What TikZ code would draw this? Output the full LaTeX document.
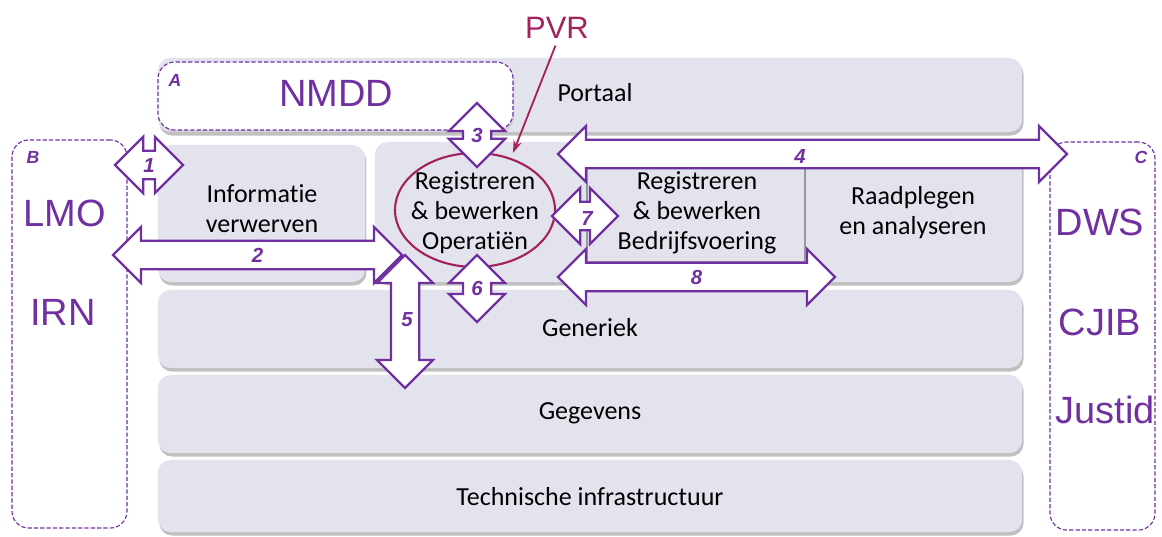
\documentclass[tikz,border=0pt]{standalone}
\usepackage{fontspec}
\setmainfont{Carlito}[Ligatures=NoCommon]
\newfontfamily\arialfont{Liberation Sans}
\usetikzlibrary{shapes.arrows,shadows,arrows.meta}

\definecolor{lagen}{HTML}{E3E3EE}
\definecolor{paars}{HTML}{7030A0}
\definecolor{pvrrood}{HTML}{A3215C}

\tikzset{
  laag/.style={fill=lagen, rounded corners=9pt, inner sep=0pt,
    drop shadow={shadow xshift=1pt, shadow yshift=-2.5pt, fill=black!45, opacity=.55}},
  tekst/.style={font=\fontsize{18.5}{21.3}\selectfont, align=center, inner sep=0pt},
  extern/.style={draw=paars, dash pattern=on 3pt off 1.5pt, line width=0.8pt, rounded corners=12pt, inner sep=0pt},
  partij/.style={font=\arialfont\fontsize{27}{27}\selectfont, text=paars, inner sep=0pt},
  letter/.style={font=\arialfont\bfseries\itshape\fontsize{12.5}{12.5}\selectfont, text=paars, inner sep=0pt},
  nr/.style={font=\arialfont\bfseries\itshape\fontsize{14.5}{14.5}\selectfont, text=paars, inner sep=0pt},
  pijl/.style={double arrow, draw=paars, fill=white, line width=1.6pt,
    double arrow tip angle=90, double arrow head extend=0.35cm,
    minimum width=1.35cm, inner xsep=0pt, inner ysep=0.325cm}
}

\begin{document}
\begin{tikzpicture}[x=0.025cm, y=-0.025cm]
\useasboundingbox (0,0) rectangle (1162,537);

% Draw the layers
  \node[laag, minimum width=21.6cm, minimum height=1.85cm] (portaal) at (590,95) {};
  \node[tekst] (portaaltekst) at (595,93) {Portaal};

  \node[laag, minimum width=5.175cm, minimum height=3.425cm] (info) at (261.5,213.5) {};
  \node[tekst] (infotekst) at (262,209) {Informatie\\verwerven};
  \node[laag, minimum width=16.175cm, minimum height=3.5cm] (kern) at (698.5,212) {};
  \node[laag, minimum width=21.6cm, minimum height=1.95cm] (generiek) at (590,329) {};
  \node[tekst] (generiektekst) at (590,328) {Generiek};
  \node[laag, minimum width=21.6cm, minimum height=1.95cm] (gegevens) at (590,414) {};
  \node[tekst] (gegevenstekst) at (590,413) {Gegevens};
  \node[laag, minimum width=21.6cm, minimum height=1.8cm] (infra) at (590,496) {};
  \node[tekst] (infratekst) at (590,497) {Technische infrastructuur};

  % Draw the inner blocks of the middle layer
  \node[draw=black!40, line width=1.5pt, fill=lagen, minimum width=5.45cm, minimum height=2.375cm] (bedrijf) at (696,214.5) {};
  \node[tekst] (bedrijftekst) at (697,213) {Registreren\\\& bewerken\\Bedrijfsvoering};
  \node[tekst] (raadplegen) at (913,213) {Raadplegen\\en analyseren};
  \node[tekst] (opv) at (475,213) {Registreren\\\& bewerken\\Operatiën};
  \draw[pvrrood, line width=1.5pt] (475,210) ellipse [x radius=80, y radius=57];

  % Draw the external parties
  \node[extern, fill=white, minimum width=8.875cm, minimum height=1.7cm,
    drop shadow={shadow xshift=1pt, shadow yshift=-2pt, fill=black!25, opacity=.5}] (a) at (335.5,96) {};
  \node[letter] (aletter) at (175,80) {A};
  \node[partij] (nmdd) at (336,93) {NMDD};

  \node[extern, minimum width=2.875cm, minimum height=9.7cm] (b) at (69.5,334) {};
  \node[letter] (bletter) at (33,157) {B};
  \node[partij] (lmo) at (65,213) {LMO};
  \node[partij] (irn) at (63,312) {IRN};

  \node[extern, minimum width=2.625cm, minimum height=9.7cm] (c) at (1102.5,336) {};
  \node[letter] (cletter) at (1141,157) {C};
  \node[partij] (dws) at (1100,222) {DWS};
  \node[partij] (cjib) at (1100,322) {CJIB};
  \node[partij] (justid) at (1105,410) {Justid};

  % Draw the interfaces
  \node[pijl, minimum height=1.7cm] (p1) at (149,165) {};
  \node[nr] (n1) at (p1) {1};
  \node[pijl, minimum height=7.225cm] (p2) at (257.5,255) {};
  \node[nr] (n2) at (p2) {2};
  \node[pijl, rotate=90, minimum height=1.6cm] (p3) at (477,135) {};
  \node[nr] (n3) at (p3) {3};
  \node[pijl, minimum height=12.725cm] (p4) at (812.5,154) {};
  \node[nr] (n4) at (800,156) {4};
  \node[pijl, rotate=90, minimum height=3.325cm] (p5) at (405,321.5) {};
  \node[nr] (n5) at (407,320) {5};
  \node[pijl, rotate=90, minimum height=1.675cm] (p6) at (477,288.5) {};
  \node[nr] (n6) at (p6) {6};
  \node[pijl, minimum height=1.65cm] (p7) at (585,216) {};
  \node[nr] (n7) at (587,218) {7};
  \node[pijl, minimum height=6.925cm] (p8) at (696.5,277) {};
  \node[nr] (n8) at (p8) {8};

  % Draw the PVR pointer
  \node[font=\arialfont\fontsize{22}{22}\selectfont, text=pvrrood, inner sep=2pt] (pvr) at (557,28) {PVR};
  \coordinate (pvrpunt) at (513,153);
  \draw[pvrrood, line width=1.3pt, -{Stealth[length=9pt,width=6pt]}, shorten <=3pt] (pvr.south) -- (pvrpunt);

\end{tikzpicture}
\end{document}
